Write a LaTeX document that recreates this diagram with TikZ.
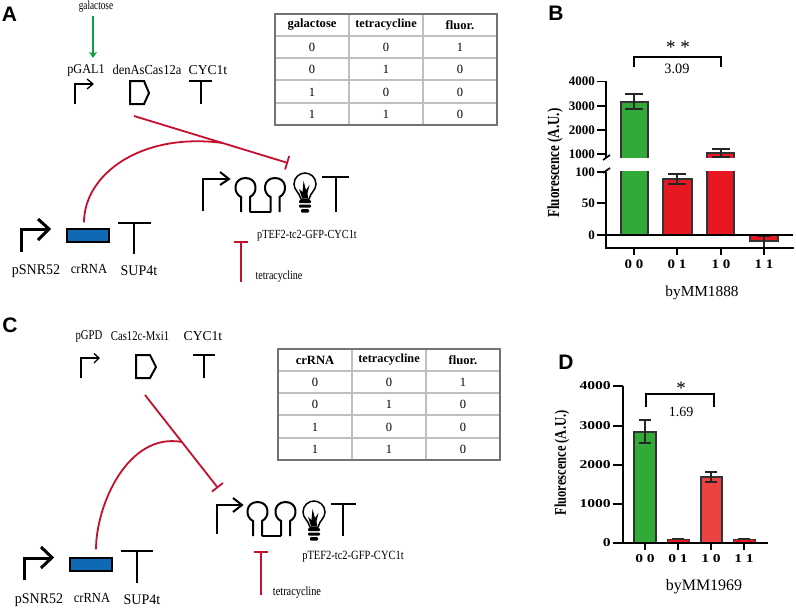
\documentclass[tikz,border=0pt]{standalone}
\usepackage{fontspec}
\setmainfont{Liberation Serif}
\newfontfamily\panelfont{Liberation Sans}
\usepackage{tikz}
\usetikzlibrary{arrows.meta}
\definecolor{repred}{RGB}{196,16,46}
\definecolor{indgreen}{RGB}{10,160,60}
\definecolor{barblue}{RGB}{16,105,180}
\definecolor{bargreen}{RGB}{50,170,55}
\definecolor{barred}{RGB}{232,24,34}
\definecolor{barred2}{RGB}{236,66,66}
\tikzset{
  txt/.style={inner sep=0pt,font=\fontsize{#1}{#1}\selectfont},
  btxt/.style={inner sep=0pt,font=\fontsize{#1}{#1}\selectfont\bfseries},
  tall/.style={yscale=#1,transform shape},
  panel/.style={inner sep=0pt,font=\fontsize{21}{21}\selectfont\panelfont\bfseries},
  part/.style={line width=2pt,black,line join=miter},
  thinpart/.style={line width=1.3pt,black},
  thickpart/.style={line width=3pt,black},
  repress/.style={line width=1.8pt,repred,-{Bar[width=14pt,line width=1.8pt]}},
  crline/.style={line width=1.8pt,repred},
  crbox/.style={draw=black,line width=1.2pt,fill=barblue,inner sep=0pt,minimum width=42pt,minimum height=13pt},
  bar/.style={draw=black!80,line width=1.1pt,fill=#1},
  errb/.style={line width=1.1pt,black!85},
  axis/.style={line width=1.7pt,black},
  hairloop/.pic={
    \draw[part] (-4.5,24) -- (-4.5,9) .. controls (-13,5) and (-12,-10) .. (0,-10)
      .. controls (12,-10) and (13,5) .. (4.5,9) -- (4.5,24);
  },
  bulb/.pic={
    \draw[line width=1.5pt] (-4,13) .. controls (-6,6) and (-11,4) .. (-11,-2)
      .. controls (-11,-9) and (-5,-13) .. (0,-13) .. controls (5,-13) and (11,-9) .. (11,-2)
      .. controls (11,4) and (6,6) .. (4,13) -- cycle;
    \fill (-3,12)--(-6,3)--(-2.5,6)--(-1.5,-5)--(1,4)--(4.5,-1)--(2.5,7)--(3,12)--cycle;
    \fill[rounded corners=1pt] (-6,14) rectangle (6,17);
    \fill[rounded corners=1pt] (-6,18.5) rectangle (6,21.5);
    \fill[rounded corners=1pt] (-4,23) rectangle (4,26.5);
  }
}
% truth table: x shift, y shift, prefix, first heading
\newcommand{\gatetable}[4]{
\begin{scope}[shift={(#1,#2)}]
\foreach \x in {349,423}
\draw[black!25,line width=1.1pt](\x,14)--(\x,125);
\foreach \y in {36,58,80,103}
\draw[black!25,line width=1.1pt](275,\y)--(497,\y);
\draw[black!55,line width=1.1pt](275,14)rectangle(497,125);
\node[btxt=12.6] (#3h1) at (312,25) {#4};
\node[btxt=12.3] (#3h2) at (386,25) {tetracycline};
\node[btxt=12.6] (#3h3) at (460,25) {fluor.};
\foreach \a/\b/\c/\y [count=\r] in {0/0/1/47,0/1/0/69,1/0/0/92,1/1/0/114}{
\node[txt=12.5] (#3a\r) at (312,\y) {\a};
\node[txt=12.5] (#3b\r) at (386,\y) {\b};
\node[txt=12.5] (#3c\r) at (460,\y) {\c};
}
\end{scope}
}
\begin{document}
\begin{tikzpicture}[x=1pt,y=-1pt]
\useasboundingbox (0,0) rectangle (796,608);
% panel letters
\node[panel] (lblA) at (9.5,14) {A};
\node[panel] (lblB) at (556,13) {B};
\node[panel] (lblC) at (10,325) {C};
\node[panel] (lblD) at (566,362) {D};
%%%%% A
\node[txt=9.2,tall=1.35] (galA) at (96,7) {galactose};
\node[txt=12.2,tall=1.1] (pgalA) at (86,70) {pGAL1};
\node[txt=12.5,tall=1.1] (casA) at (147,70) {denAsCas12a};
\node[txt=13.6] (cycA) at (208,70) {CYC1t};
\draw[line width=1.6pt,indgreen,shorten >=6pt,-{Stealth[length=6pt,width=8pt]}]([xshift=-3pt]galA.south)++(0,3)--([xshift=7pt]pgalA.north);
\draw[thinpart](75,104)|-(92,84);
\draw[thinpart](87,79)--(93,84)--(87,89);
\draw[part](130,81)--(144,81)--(149,93)--(144,104)--(130,104)--cycle;
\draw[part](189,81)--(212,81);
\draw[part](200.5,81)--(200.5,104);
\coordinate (fromA) at (134,116);
\coordinate (toA) at (288,163);
\coordinate (joinA) at (223,143);
\node[crbox] (boxA) at (88,235.5) {};
\draw[crline]([shift={(-4,-6)}]boxA.north) .. controls (84,175) and (140,132) .. (joinA);
\draw[repress](fromA)--(toA);
\draw[thickpart](21,252)|-(48,229);
\draw[thickpart](38,219)--(49,229)--(38,240);
\draw[part](118,223)--(151,223);
\draw[part](134,223)--(134,254);
\node[txt=14,tall=1.05] (snrA) at (36,271) {pSNR52};
\node[txt=12.6,tall=1.1] (crA) at (89,269) {crRNA};
\node[txt=14,tall=1.05] (supA) at (139,271) {SUP4t};
% reporter
\draw[part](203,211)|-(228,179);
\draw[part](220,172)--(229,179)--(220,185);
\pic at (245.5,188) {hairloop};
\pic at (275,188) {hairloop};
\draw[part](250,212)--(270.5,212);
\pic at (305,186) {bulb};
\draw[part](322,177)--(349,177);
\draw[part](336,177)--(336,212);
\node[txt=10.3,tall=1.2] (tefA) at (307,236) {pTEF2-tc2-GFP-CYC1t};
\node[txt=10,tall=1.25] (tetA) at (279,277) {tetracycline};
\coordinate (tbarA) at (241,241);
\coordinate (tfootA) at (241,282);
\draw[repress](tfootA)--(tbarA);
\gatetable{0}{0}{tA}{galactose}
%%%%% C
\node[txt=10.7,tall=1.25] (pgpdC) at (89,336) {pGPD};
\node[txt=10.7,tall=1.25] (casC) at (140,336) {Cas12c-Mxi1};
\node[txt=13.6] (cycC) at (203,336) {CYC1t};
\draw[thinpart](81,378)|-(98,358);
\draw[thinpart](94,353.5)--(99,358)--(94,363);
\draw[part](136,355)--(150,355)--(156,367)--(150,378)--(136,378)--cycle;
\draw[part](193,355)--(215,355);
\draw[part](204,355)--(204,378);
\coordinate (fromC) at (145,395);
\coordinate (toC) at (218,488);
\coordinate (joinC) at (182,442);
\node[crbox] (boxC) at (91,564.5) {};
\draw[crline]([shift={(5,-8)}]boxC.north) .. controls (96,505) and (128,432) .. (joinC);
\draw[repress](fromC)--(toC);
\draw[thickpart](24,580)|-(52,558);
\draw[thickpart](41,547)--(52,557.5)--(41,568);
\draw[part](121,551)--(153,551);
\draw[part](137,551)--(137,583);
\node[txt=14,tall=1.05] (snrC) at (39,600) {pSNR52};
\node[txt=12.6,tall=1.1] (crC) at (92,598) {crRNA};
\node[txt=14,tall=1.05] (supC) at (142,600) {SUP4t};
% reporter
\draw[part](217,534)|-(241,505);
\draw[part](233,498)--(242,505)--(233,512);
\pic at (257.5,512) {hairloop};
\pic at (285.5,512) {hairloop};
\draw[part](262,536)--(281,536);
\pic at (314,514) {bulb};
\draw[part](331,504)--(356,504);
\draw[part](343,504)--(343,536);
\node[txt=10.5,tall=1.2] (tefC) at (353,557) {pTEF2-tc2-GFP-CYC1t};
\node[txt=10.3,tall=1.25] (tetC) at (297,592) {tetracycline};
\coordinate (tbarC) at (261,551);
\coordinate (tfootC) at (261,595);
\draw[repress](tfootC)--(tbarC);
\gatetable{3}{335}{tC}{crRNA}
%%%%% B
\draw[bar=bargreen](621,158)--(621,102)--(648,102)--(648,158);
\fill[bargreen](621,171)rectangle(648,235);
\draw[bar=bargreen](621,171)--(621,235)--(648,235)--(648,171);
\draw[bar=barred](663,179)rectangle(692,235);
\draw[bar=barred](707,158)--(707,153)--(734,153)--(734,158);
\draw[bar=barred](707,171)--(707,235)--(734,235)--(734,171);
\draw[bar=barred](750,235)rectangle(778,241);
\foreach \x/\a/\b in {634/94/109,677/174/184,721/149/157}{
\draw[errb](\x,\a)--(\x,\b);
\draw[errb](\x-9,\a)--(\x+9,\a);
\draw[errb](\x-9,\b)--(\x+9,\b);
}
\draw[errb](764,236)--(764,248);
\draw[errb](757,236)--(771,236);
\draw[axis](606,81)--(606,158);
\draw[axis](606,172)--(606,248)--(794,248);
\draw[axis](597,235)--(793,235);
\draw[axis](603,160)--(610,155);
\draw[axis](603,173)--(610,168);
\foreach \v/\y in {4000/81.5,3000/106,2000/130,1000/154,100/172,50/203,0/235}{
\draw[axis](597,\y)--(606,\y);
\node[btxt=13,anchor=east] (tickB\v) at (595,\y) {\v};
}
\foreach \t/\x in {0 0/634,0 1/677,1 0/721,1 1/764}{
\draw[axis](\x,248)--(\x,255);
\node[btxt=13,xscale=1.15,transform shape] at (\x,264) {\t};
}
\node[btxt=13,rotate=90,yscale=1.3,transform shape] (yB) at (555,163) {Fluorescence (A.U.)};
\node[txt=15.3] (nameB) at (702,293) {byMM1888};
\draw[line width=1.5pt](634,67)|-(721,57)--(721,67);
\node[txt=14.3] (ratioB) at (677,69) {3.09};
\node[txt=19] (starB) at (678,47) {* *};
%%%%% D
\draw[bar=bargreen](634,432)rectangle(656,543);
\draw[bar=barred,line width=0.9pt](667,539.5)rectangle(689,543);
\draw[bar=barred2](701,477)rectangle(722,543);
\draw[bar=barred,line width=0.9pt](733,539.5)rectangle(755,543);
\foreach \x/\a/\b in {645/420/443,711/472/482}{
\draw[errb](\x,\a)--(\x,\b);
\draw[errb](\x-6,\a)--(\x+6,\a);
\draw[errb](\x-6,\b)--(\x+6,\b);
}
\draw[errb](672,538.5)--(684,538.5);
\draw[errb](738,538.5)--(750,538.5);
\draw[axis](623,386)--(623,543)--(768,543);
\foreach \v/\y in {4000/386,3000/426,2000/465,1000/504,0/543}{
\draw[axis](613,\y)--(623,\y);
\node[btxt=12,anchor=east,xscale=1.3,transform shape] (tickD\v) at (611,\y) {\v};
}
\foreach \t/\x in {0 0/645,0 1/678,1 0/711,1 1/744}{
\draw[axis](\x,543)--(\x,550);
\node[btxt=12,xscale=1.3,transform shape] at (\x,559) {\t};
}
\node[btxt=12.5,rotate=90,yscale=1.3,transform shape] (yD) at (562,463) {Fluorescence (A.U.)};
\node[txt=16] (nameD) at (704,587) {byMM1969};
\draw[line width=1.5pt](646,407)|-(714,394)--(714,407);
\node[txt=14] (ratioD) at (681,412) {1.69};
\node[txt=19] (starD) at (681,388) {*};
\end{tikzpicture}
\end{document}
